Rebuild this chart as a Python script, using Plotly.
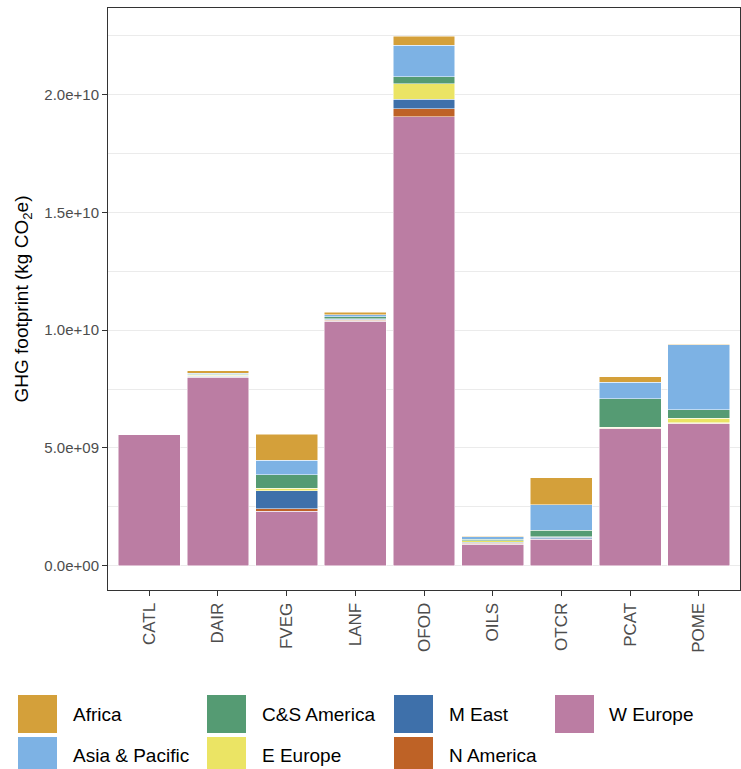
import plotly.graph_objects as go

categories = ["CATL", "DAIR", "FVEG", "LANF", "OFOD", "OILS", "OTCR", "PCAT", "POME"]

# values in units of 1e9 kg CO2e
w_europe = [5.56, 8.00, 2.31, 10.39, 19.07, 0.92, 1.13, 5.82, 6.03]
n_america = [0.0, 0.02, 0.10, 0.04, 0.33, 0.04, 0.02, 0.02, 0.02]
m_east = [0.0, 0.02, 0.78, 0.03, 0.40, 0.03, 0.07, 0.02, 0.02]
e_europe = [0.0, 0.05, 0.11, 0.03, 0.66, 0.07, 0.01, 0.02, 0.20]
cs_america = [0.0, 0.04, 0.56, 0.08, 0.31, 0.06, 0.28, 1.20, 0.36]
asia_pacific = [0.0, 0.05, 0.62, 0.08, 1.33, 0.11, 1.08, 0.71, 2.76]
africa = [0.0, 0.10, 1.10, 0.11, 0.38, 0.03, 1.15, 0.23, 0.02]

# stacking order: bottom first
series_names = ["W Europe", "N America", "M East", "E Europe", "C&S America", "Asia & Pacific", "Africa"]
series_values = [w_europe, n_america, m_east, e_europe, cs_america, asia_pacific, africa]
series_colors = ["#BB7DA3", "#BE6226", "#3E70AA", "#EBE464", "#559B73", "#7DB2E4", "#D4A03A"]

ytick_vals = [0, 5e9, 1e10, 1.5e10, 2e10]
ytick_text = ["0.0e+00", "5.0e+09", "1.0e+10", "1.5e+10", "2.0e+10"]

# legend layout (column-major, 2 rows)
legend_order = ["Africa", "Asia & Pacific", "C&S America", "E Europe", "M East", "N America", "W Europe"]

FONT = "Liberation Sans, Arial, sans-serif"

fig = go.Figure()
for name, vals, col in zip(series_names, series_values, series_colors):
    fig.add_trace(go.Bar(
        x=categories,
        y=[v * 1e9 for v in vals],
        name=name,
        marker=dict(color=col, line=dict(color="white", width=0.5)),
        showlegend=False,
    ))

W, H = 741, 769
L, R, T, B = 108, 1, 8, 179
pw, ph = W - L - R, H - T - B


def px2paper(x, y):
    return (x - L) / pw, (H - B - y) / ph


shapes = []
annotations = []
col_key_x = [18, 207, 394, 555]
col_txt_x = [71, 260, 447, 607]
row_key_y = [695, 737]
key_w, key_h = 39, 38
color_map = dict(zip(series_names, series_colors))
for i, name in enumerate(legend_order):
    c, r = i // 2, i % 2
    x0, y0 = px2paper(col_key_x[c], row_key_y[r])
    x1, y1 = px2paper(col_key_x[c] + key_w, row_key_y[r] + key_h)
    shapes.append(dict(type="rect", xref="paper", yref="paper", x0=x0, x1=x1, y0=y1, y1=y0,
                       fillcolor=color_map[name], line=dict(width=0), layer="above"))
    tx, ty = px2paper(col_txt_x[c], row_key_y[r] + key_h / 2)
    annotations.append(dict(text=name, xref="paper", yref="paper", x=tx, y=ty,
                            xanchor="left", yanchor="middle", showarrow=False,
                            font=dict(family=FONT, size=19, color="black")))

fig.update_layout(
    width=W, height=H,
    margin=dict(l=L, r=R, t=T, b=B, autoexpand=False),
    barmode="stack",
    bargap=0.1,
    paper_bgcolor="white",
    plot_bgcolor="white",
    font=dict(family=FONT, color="#4D4D4D"),
    shapes=shapes,
    annotations=annotations,
)
fig.update_xaxes(
    range=[-0.6, 8.6],
    showgrid=False,
    showline=True, mirror=True, linecolor="#333333", linewidth=1,
    ticks="outside", ticklen=5, tickcolor="#333333", tickwidth=1,
    tickangle=-90,
    tickfont=dict(family=FONT, size=17, color="#4D4D4D"),
    zeroline=False,
)
fig.update_yaxes(
    range=[-1.03e9, 23.68e9],
    tickvals=ytick_vals, ticktext=ytick_text,
    showgrid=True, gridcolor="#EBEBEB", gridwidth=1,
    minor=dict(dtick=2.5e9, tick0=0, showgrid=True, gridcolor="#EBEBEB", gridwidth=0.5),
    showline=True, mirror=True, linecolor="#333333", linewidth=1,
    ticks="outside", ticklen=5, tickcolor="#333333", tickwidth=1,
    tickfont=dict(family=FONT, size=15, color="#4D4D4D"),
    zeroline=False,
    title=dict(text="GHG footprint (kg CO<sub>2</sub>e)", standoff=10,
               font=dict(family=FONT, size=19, color="black")),
)

fig.write_html("out.html")
